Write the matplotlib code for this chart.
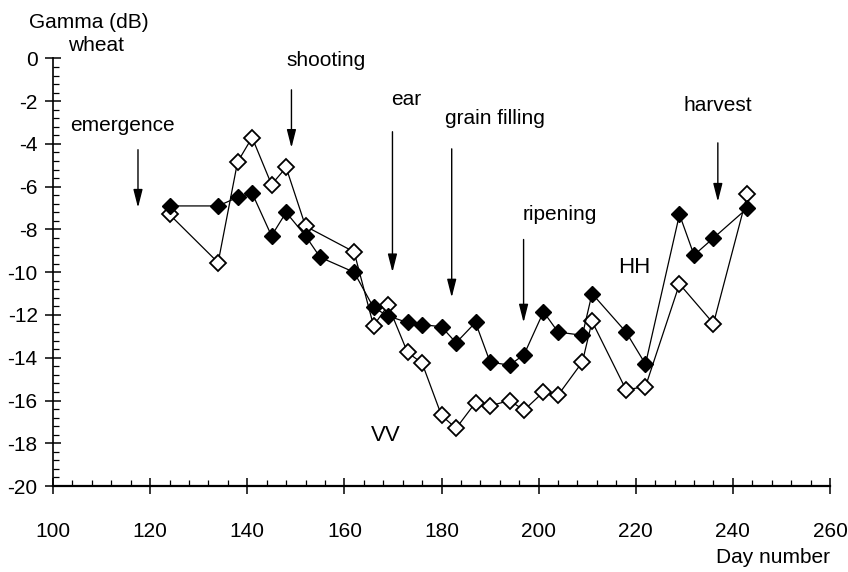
import numpy as np
import matplotlib
matplotlib.use("Agg")
import matplotlib.pyplot as plt
from matplotlib.ticker import MultipleLocator

plt.rcParams['font.family'] = ['Liberation Sans Narrow', 'Liberation Sans', 'DejaVu Sans']

# HH polarisation (filled diamonds)
day_hh = [124, 134, 138, 141, 145, 148, 152, 155, 162, 166, 169, 173, 176, 180, 183,
          187, 190, 194, 197, 201, 204, 209, 211, 218, 222, 229, 232, 236, 243]
gamma_hh = [-6.9, -6.9, -6.5, -6.3, -8.3, -7.2, -8.3, -9.3, -10.0, -11.65, -12.05, -12.35,
            -12.45, -12.55, -13.3, -12.35, -14.2, -14.35, -13.85, -11.85, -12.8, -12.95,
            -11.0, -12.8, -14.3, -7.3, -9.2, -8.4, -7.0]

# VV polarisation (open diamonds)
day_vv = [124, 134, 138, 141, 145, 148, 152, 162, 166, 169, 173, 176, 180, 183, 187,
          190, 194, 197, 201, 204, 209, 211, 218, 222, 229, 236, 243]
gamma_vv = [-7.3, -9.55, -4.85, -3.7, -5.9, -5.1, -7.85, -9.05, -12.5, -11.55, -13.75,
            -14.25, -16.7, -17.3, -16.1, -16.25, -16.0, -16.45, -15.6, -15.75, -14.2,
            -12.3, -15.5, -15.35, -10.55, -12.4, -6.35]

# growth stages: label, label position, arrow x, arrow top, arrow tip
stages = ["emergence", "shooting", "ear", "grain filling", "ripening", "harvest"]
stage_label_x = [114.2, 156.3, 172.8, 190.9, 204.3, 236.9]
stage_label_y = [-3.15, -0.1, -1.9, -2.8, -7.3, -2.2]
stage_arrow_x = [117.5, 149.1, 169.9, 182.1, 196.9, 236.9]
stage_arrow_top = [-4.27, -1.47, -3.43, -4.23, -8.47, -3.95]
stage_arrow_tip = [-6.98, -4.18, -10.0, -11.18, -12.35, -6.7]

fig = plt.figure(figsize=(8.48, 5.72), dpi=100)
ax = fig.add_axes([0.0625, 0.1503, 0.9163, 0.7476])

ax.plot(day_vv, gamma_vv, color='black', lw=0.9, marker='D', ms=8,
        mfc='white', mec='black', mew=1.3, zorder=3)
ax.plot(day_hh, gamma_hh, color='black', lw=0.9, marker='D', ms=8,
        mfc='black', mec='black', mew=1.0, zorder=4)

for name, lx, ly, ax_x, top, tip in zip(stages, stage_label_x, stage_label_y,
                                         stage_arrow_x, stage_arrow_top, stage_arrow_tip):
    ax.text(lx, ly, name, fontsize=15, ha='center', va='center', clip_on=False)
    ax.annotate('', xy=(ax_x, tip), xytext=(ax_x, top),
                arrowprops=dict(arrowstyle='-|>,head_length=1.1,head_width=0.28',
                                color='black', lw=1.0, shrinkA=0, shrinkB=0))

ax.text(219.6, -9.8, "HH", fontsize=16, ha='center', va='center')
ax.text(168.5, -17.65, "VV", fontsize=16, ha='center', va='center')

fig.text(0.105, 0.9615, "Gamma (dB)", fontsize=15, ha='center', va='center')
fig.text(0.113, 0.921, "wheat", fontsize=15, ha='center', va='center')
fig.text(0.912, 0.025, "Day number", fontsize=15, ha='center', va='center')

ax.set_xlim(100, 260)
ax.set_ylim(-20, 0)
ax.xaxis.set_major_locator(MultipleLocator(20))
ax.xaxis.set_minor_locator(MultipleLocator(4))
ax.yaxis.set_major_locator(MultipleLocator(2))
ax.yaxis.set_minor_locator(MultipleLocator(0.4))
ax.set_yticks(np.arange(-20, 1, 2))
ax.set_yticklabels([str(v) for v in range(-20, 1, 2)])

for side in ['top', 'right']:
    ax.spines[side].set_visible(False)
ax.spines['left'].set_linewidth(1.2)
ax.spines['bottom'].set_linewidth(1.6)

ax.tick_params(which='major', direction='inout', length=12, width=1.1, labelsize=15)
ax.tick_params(which='minor', direction='in', length=4, width=0.9)
ax.tick_params(axis='x', which='major', pad=20)
ax.tick_params(axis='y', which='major', pad=5)

fig.savefig("out.png", dpi=100)
